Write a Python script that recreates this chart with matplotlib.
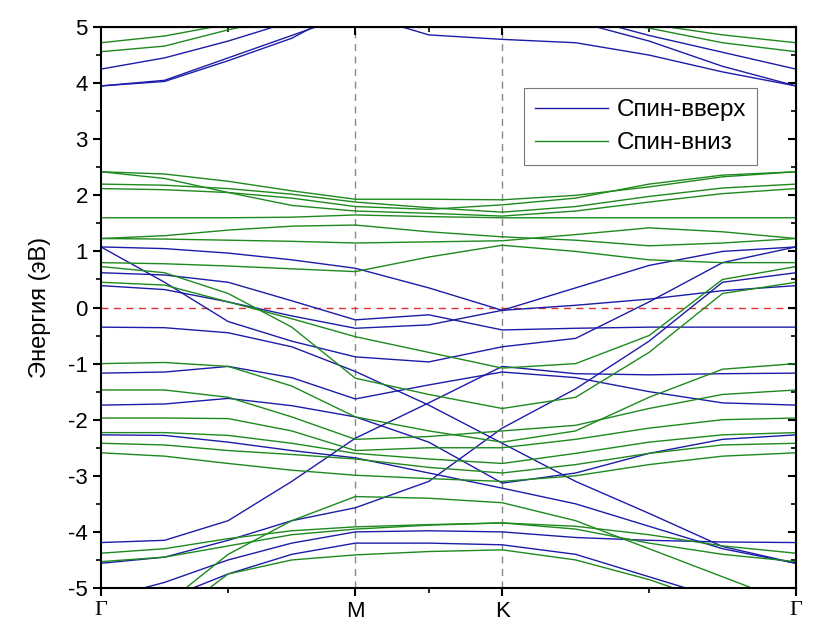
import numpy as np
import matplotlib
matplotlib.use("Agg")
import matplotlib.pyplot as plt
from matplotlib.ticker import MultipleLocator

plt.rcParams['font.family'] = ['Liberation Sans', 'DejaVu Sans']
plt.rcParams['axes.unicode_minus'] = False

# high-symmetry points (path length in units of |ΓM|)
k_labels = ['Γ', 'M', 'K', 'Γ']
k_nodes = [0.0, 1.0, 1.0 + 1 / np.sqrt(3), 1.0 + np.sqrt(3)]

# k-grid the bands are read on: Γ, 3 pts, M, 1 pt, K, 3 pts, Γ
kx = np.concatenate([
    np.linspace(k_nodes[0], k_nodes[1], 5),
    np.linspace(k_nodes[1], k_nodes[2], 3)[1:],
    np.linspace(k_nodes[2], k_nodes[3], 5)[1:],
])

# spin-up bands (eV)
up = [
    [4.25, 4.45, 4.75, 5.10, 5.50, 5.70, 5.70, 5.20, 4.85, 4.55, 4.25],
    [3.95, 4.05, 4.45, 4.85, 5.25, 4.86, 4.78, 4.72, 4.50, 4.20, 3.95],
    [3.95, 4.03, 4.40, 4.80, 5.40, 5.60, 5.60, 5.10, 4.75, 4.30, 3.95],
    [1.08, 1.05, 0.97, 0.85, 0.70, 0.35, -0.05, 0.35, 0.75, 1.00, 1.08],
    [1.08, 0.45, -0.25, -0.60, -0.88, -0.97, -0.70, -0.55, 0.10, 0.80, 1.08],
    [0.62, 0.58, 0.45, 0.12, -0.22, -0.13, -0.40, -0.37, -0.35, -0.35, -0.35],
    [0.39, 0.32, 0.10, -0.15, -0.37, -0.31, -0.05, 0.04, 0.15, 0.30, 0.39],
    [-0.35, -0.36, -0.45, -0.70, -1.14, -1.74, -2.42, -3.10, -3.67, -4.26, -4.56],
    [-1.17, -1.15, -1.05, -1.25, -1.63, -1.38, -1.15, -1.25, -1.50, -1.70, -1.74],
    [-1.74, -1.72, -1.62, -1.75, -1.95, -2.40, -3.13, -2.95, -2.60, -2.35, -2.27],
    [-2.27, -2.28, -2.40, -2.55, -2.68, -2.95, -3.22, -3.50, -3.90, -4.30, -4.56],
    [-4.19, -4.15, -3.80, -3.10, -2.33, -1.70, -1.05, -1.18, -1.20, -1.18, -1.17],
    [-4.56, -4.45, -4.15, -3.80, -3.57, -3.10, -2.15, -1.45, -0.60, 0.45, 0.62],
    [-5.20, -4.90, -4.50, -4.20, -4.00, -3.98, -4.00, -4.10, -4.15, -4.18, -4.19],
    [-5.60, -5.20, -4.75, -4.40, -4.20, -4.20, -4.23, -4.40, -4.80, -5.20, -5.60],
]

# spin-down bands (eV)
down = [
    [4.72, 4.84, 5.05, 5.30, 5.50, 5.50, 5.50, 5.30, 5.05, 4.86, 4.72],
    [4.56, 4.66, 4.95, 5.20, 5.40, 5.40, 5.40, 5.20, 4.98, 4.72, 4.56],
    [2.42, 2.38, 2.25, 2.08, 1.93, 1.93, 1.92, 2.00, 2.15, 2.33, 2.42],
    [2.42, 2.30, 2.05, 1.82, 1.72, 1.68, 1.63, 1.72, 1.88, 2.03, 2.12],
    [2.20, 2.18, 2.12, 2.02, 1.88, 1.78, 1.70, 1.80, 1.98, 2.13, 2.20],
    [2.12, 2.10, 2.05, 1.95, 1.80, 1.75, 1.83, 1.95, 2.20, 2.36, 2.42],
    [1.60, 1.60, 1.60, 1.61, 1.65, 1.62, 1.60, 1.60, 1.60, 1.60, 1.60],
    [1.23, 1.28, 1.38, 1.45, 1.47, 1.35, 1.26, 1.20, 1.10, 1.15, 1.23],
    [1.23, 1.22, 1.20, 1.18, 1.15, 1.17, 1.19, 1.30, 1.42, 1.35, 1.23],
    [0.80, 0.78, 0.74, 0.69, 0.64, 0.90, 1.11, 1.00, 0.85, 0.80, 0.80],
    [0.73, 0.62, 0.25, -0.35, -1.26, -1.55, -1.80, -1.60, -0.80, 0.25, 0.45],
    [0.45, 0.40, 0.10, -0.20, -0.52, -0.80, -1.08, -1.00, -0.50, 0.50, 0.73],
    [-1.00, -0.98, -1.05, -1.40, -1.95, -2.20, -2.40, -2.20, -1.60, -1.10, -1.00],
    [-1.47, -1.47, -1.60, -1.95, -2.35, -2.30, -2.20, -2.10, -1.80, -1.55, -1.47],
    [-1.97, -1.97, -1.98, -2.20, -2.55, -2.50, -2.50, -2.35, -2.15, -2.00, -1.97],
    [-2.23, -2.23, -2.28, -2.42, -2.60, -2.70, -2.78, -2.60, -2.40, -2.27, -2.23],
    [-2.42, -2.45, -2.55, -2.62, -2.70, -2.85, -2.95, -2.80, -2.60, -2.45, -2.42],
    [-2.59, -2.65, -2.78, -2.90, -2.99, -3.05, -3.10, -3.00, -2.80, -2.65, -2.59],
    [-5.80, -5.30, -4.40, -3.80, -3.37, -3.40, -3.48, -3.80, -4.30, -4.80, -5.30],
    [-4.38, -4.30, -4.12, -3.98, -3.91, -3.87, -3.84, -3.90, -4.05, -4.25, -4.38],
    [-4.53, -4.45, -4.25, -4.05, -3.95, -3.88, -3.84, -3.95, -4.20, -4.40, -4.53],
    [-6.00, -5.60, -4.75, -4.50, -4.41, -4.35, -4.32, -4.50, -4.85, -5.30, -5.80],
]

c_up = '#1c1ca8'
c_dn = '#1e8a1e'

fig = plt.figure(figsize=(8.13, 6.33), dpi=100)
ax = fig.add_axes([0.1242, 0.0711, 0.8548, 0.8862])

for i, b in enumerate(up):
    ax.plot(kx, b, color=c_up, lw=1.0, label='Спин-вверх' if i == 0 else None)
for i, b in enumerate(down):
    ax.plot(kx, b, color=c_dn, lw=1.0, label='Спин-вниз' if i == 0 else None)

for k in k_nodes[1:3]:
    ax.axvline(k, color='#888888', ls=(0, (5, 4)), lw=1.0, zorder=0)
ax.axhline(0, color='#e03030', ls=(0, (5, 4)), lw=1.0, zorder=0)

ax.set_xlim(k_nodes[0], k_nodes[-1])
ax.set_ylim(-5, 5)
ax.set_xticks(k_nodes)
ax.set_xticklabels(k_labels)
for lab in ax.get_xticklabels():
    if lab.get_text() == 'Γ':
        lab.set_family('Liberation Serif')
ax.set_xticks([(k_nodes[i] + k_nodes[i + 1]) / 2 for i in range(3)], minor=True)
ax.yaxis.set_major_locator(MultipleLocator(1))
ax.yaxis.set_minor_locator(MultipleLocator(0.5))
ax.tick_params(axis='both', which='major', direction='out', length=6, width=1.5,
               labelsize=16)
ax.tick_params(axis='both', which='minor', direction='out', length=3.5, width=1.2)
for s in ax.spines.values():
    s.set_linewidth(1.5)

# mirrored ticks pointing inward on the top and right
secx = ax.secondary_xaxis('top')
secx.set_xticks(k_nodes[1:3])
secx.set_xticks([(k_nodes[i] + k_nodes[i + 1]) / 2 for i in range(3)], minor=True)
secx.tick_params(which='major', direction='in', length=6, width=1.5, labeltop=False)
secx.tick_params(which='minor', direction='in', length=3.5, width=1.2)
secy = ax.secondary_yaxis('right')
secy.yaxis.set_major_locator(MultipleLocator(1))
secy.yaxis.set_minor_locator(MultipleLocator(0.5))
secy.tick_params(which='major', direction='in', length=6, width=1.5, labelright=False)
secy.tick_params(which='minor', direction='in', length=3.5, width=1.2)

ax.set_ylabel('Энергия (эВ)', fontsize=17, labelpad=12)

leg = ax.legend(loc='upper right', bbox_to_anchor=(0.944, 0.891), borderaxespad=0,
                fontsize=17.5, handlelength=3.0, handletextpad=0.35,
                frameon=True, fancybox=False, borderpad=0.45, labelspacing=0.45)
leg.get_frame().set_edgecolor('#555555')
leg.get_frame().set_linewidth(0.8)

fig.savefig('out.png', dpi=100)
